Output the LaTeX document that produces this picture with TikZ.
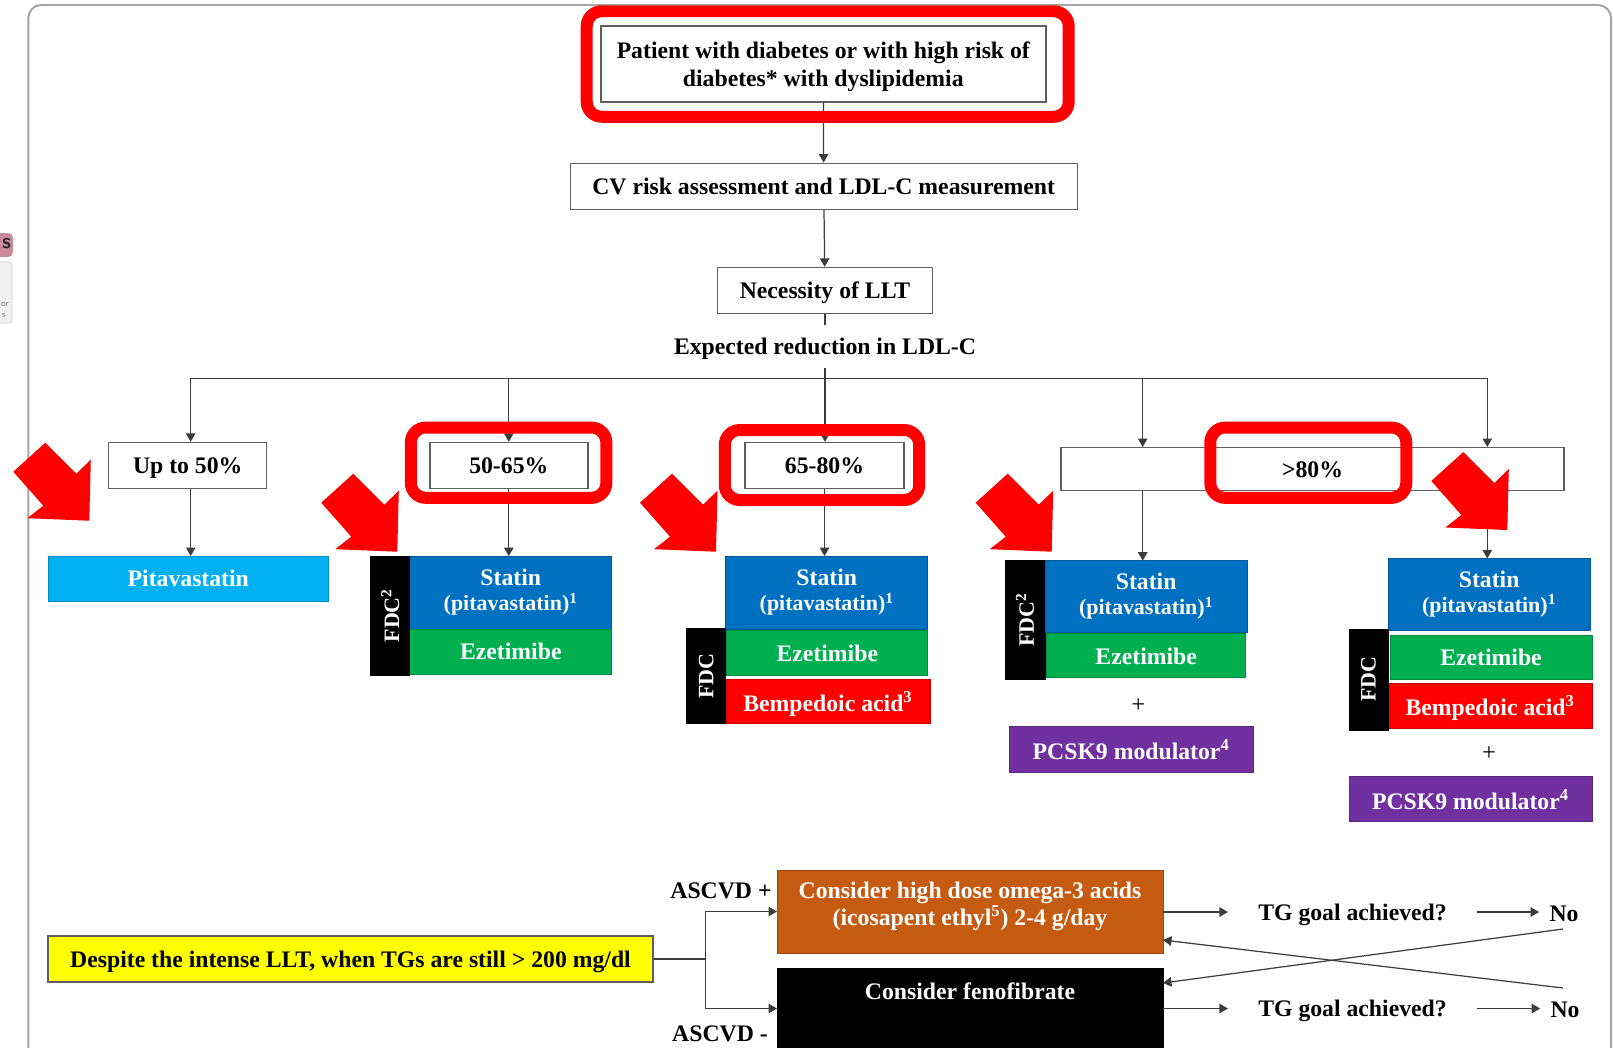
\documentclass[tikz,border=0pt]{standalone}
\usepackage{fontspec}
\setmainfont{Liberation Serif}
\usetikzlibrary{arrows.meta,positioning,calc}
\definecolor{framegray}{RGB}{165,165,165}
\definecolor{linegray}{RGB}{60,60,60}
\definecolor{boxgray}{RGB}{95,95,95}
\definecolor{hired}{RGB}{255,0,0}
\definecolor{pitablue}{RGB}{0,176,240}
\definecolor{statblue}{RGB}{0,112,192}
\definecolor{ezegreen}{RGB}{0,176,80}
\definecolor{bempred}{RGB}{255,0,0}
\definecolor{pcskpurple}{RGB}{112,48,160}
\definecolor{omegabrown}{RGB}{197,90,17}
\definecolor{tgyellow}{RGB}{255,255,0}
\definecolor{tabpink}{RGB}{201,139,156}
\newcommand{\bodyfont}{\fontsize{13.5}{15.5}\selectfont\bfseries}
\newcommand{\parenfont}{\fontsize{12.5}{14}\selectfont\bfseries}
% big red pointer, tip at #1
\newcommand{\redpointer}[1]{%
  \fill[hired] (#1) -- ++(1.5,-61) -- ++(-14.5,14) -- ++(-31,-31) -- ++(-32,29)
    -- ++(30,34) -- ++(-16,12.5) -- cycle;}

\begin{document}
\begin{tikzpicture}[x=0.02cm, y=-0.02cm,
    sz/.style 2 args={minimum width=#1*0.02cm, minimum height=#2*0.02cm},
    plain/.style={draw=boxgray, line width=0.8pt, fill=white, inner sep=0pt, text depth=0pt, align=center, font=\bodyfont},
    drug/.style={draw=#1!80!black, line width=0.5pt, fill=#1, text=white, inner sep=0pt, outer sep=0pt,
                 text depth=0pt, align=center, font=\bodyfont},
    statin/.style={drug=statblue, text depth=3pt},
    fdc/.style={fill=black, draw=black, text=white, inner sep=0pt, outer sep=0pt, rotate=90, font=\parenfont},
    hilite/.style={draw=hired, line width=0.24cm, rounded corners=0.3cm, inner sep=0pt},
    link/.style={draw=linegray, line width=0.7pt},
    arr/.style={link, -{Triangle[length=0.17cm,width=0.19cm]}},
    txt/.style={font=\bodyfont, inner sep=0pt, text depth=0pt}]
  \useasboundingbox (0,0) rectangle (1613,1048);
  \clip (0,0) rectangle (1613,1048);

  \draw[framegray, line width=0.04cm, rounded corners=0.26cm] (28.3,1100) -- (28.3,5) -- (1611,5) -- (1611,1100);
  \fill[tabpink, rounded corners=0.1cm] (-10,233) rectangle (13,257);
  \node[font=\sffamily\bfseries\fontsize{12}{12}\selectfont, text=black!85, inner sep=0pt] (tabs) at (6.5,244) {s};
  \filldraw[fill=black!6, draw=black!18, rounded corners=0.05cm] (-10,262) rectangle (12,323);
  \node[font=\sffamily\fontsize{5}{5}\selectfont, text=black!45, inner sep=0pt] (tabor) at (5,305) {or};
  \node[font=\sffamily\fontsize{5}{5}\selectfont, text=black!45, inner sep=0pt] (tabs2) at (4,316) {s};

  \node[plain, sz={445}{76}] (patient) at (823.3,64.2) {Patient with diabetes or with high risk of\\diabetes* with dyslipidemia};
  \node[plain, sz={507}{46}] (cvrisk) at (823.7,186.3) {CV risk assessment and LDL-C measurement};
  \node[plain, sz={215}{46}] (need) at (825,290.5) {Necessity of LLT};
  \node[txt, sz={310}{43}] (expect) at (825,346.5) {Expected reduction in LDL-C};
  \coordinate (bus) at (825,378.3);
  \coordinate (c1) at (190.7,378.3);
  \coordinate (c4) at (1142.7,378.3);
  \coordinate (c5) at (1487.3,378.3);

  \node[plain, sz={158}{46}] (r1) at (187.7,465.5) {Up to 50\%};
  \node[plain, sz={158}{46}] (r2) at (508.8,465.5) {50-65\%};
  \node[plain, sz={159}{46}] (r3) at (824.5,465.5) {65-80\%};
  \node[plain, sz={503}{43}] (r4) at (1312.5,469.2) {>80\%};

  \node[drug=pitablue, sz={280}{45}] (pita) at (188.3,578.5) {Pitavastatin};

  \node[statin, sz={202}{73}] (st2) at (510.8,592.6) {Statin\\[-1.3pt]{\parenfont (pitavastatin)\textsuperscript{1}}};
  \node[drug=ezegreen, sz={202}{45}] (ez2) at (510.8,651.7) {Ezetimibe};
  \node[fdc, sz={119}{39}] (fdc2) at (390.3,615.5) {FDC\textsuperscript{2}};

  \node[statin, sz={202}{73}] (st3) at (826.8,592.6) {Statin\\[-1.3pt]{\parenfont (pitavastatin)\textsuperscript{1}}};
  \node[drug=ezegreen, sz={201}{45}] (ez3) at (827.3,653.3) {Ezetimibe};
  \node[drug=bempred, sz={204}{44}] (bp3) at (828,701.3) {Bempedoic acid\textsuperscript{3}};
  \node[fdc, sz={95}{39}] (fdc3) at (706.3,676.3) {FDC};

  \node[fdc, sz={119}{40}] (fdc4) at (1025,620) {FDC\textsuperscript{2}};
  \node[statin, sz={202}{72}] (st4) at (1146.2,596.7) {Statin\\[-1.3pt]{\parenfont (pitavastatin)\textsuperscript{1}}};
  \node[drug=ezegreen, sz={199}{44}] (ez4) at (1146.2,655.8) {Ezetimibe};
  \node[txt, font=\fontsize{14}{14}\selectfont] (plus4) at (1138.3,706) {+};
  \node[drug=pcskpurple, sz={244}{46}] (pc4) at (1131.2,749.5) {PCSK9 modulator\textsuperscript{4}};

  \node[statin, sz={202}{72}] (st5) at (1489.2,594.5) {Statin\\[-1.3pt]{\parenfont (pitavastatin)\textsuperscript{1}}};
  \node[drug=ezegreen, sz={202}{44}] (ez5) at (1491,657.2) {Ezetimibe};
  \node[drug=bempred, sz={204}{45}] (bp5) at (1490.2,705.8) {Bempedoic acid\textsuperscript{3}};
  \node[fdc, sz={101}{39}] (fdc5) at (1368.4,679.4) {FDC};
  \node[txt, font=\fontsize{14}{14}\selectfont] (plus5) at (1489,754) {+};
  \node[drug=pcskpurple, sz={243}{45}] (pc5) at (1470.5,799.2) {PCSK9 modulator\textsuperscript{4}};

  \node[plain, fill=tgyellow, sz={605}{46}] (warn) at (350.5,959) {Despite the intense LLT, when TGs are still > 200 mg/dl};
  \node[drug=omegabrown, sz={386}{83}, text depth=8.4pt] (omega) at (970,911.5)
       {Consider high dose omega-3 acids\\(icosapent ethyl\textsuperscript{5}) 2-4 g/day};
  \node[drug=black, minimum width=386*0.02cm, anchor=north, text height=18pt, text depth=3cm] (feno) at (970,968)
       {Consider fenofibrate};
  \node[txt] (ascp) at (721,891) {ASCVD +};
  \node[txt] (ascm) at (720,1034) {ASCVD -};
  \coordinate (split) at (705.5,959);
  \node[txt, inner xsep=0.6cm] (tg1) at (1352.5,912) {TG goal achieved?};
  \node[txt, inner xsep=0.2cm] (no1) at (1564,913.5) {No};
  \node[txt, inner xsep=0.6cm] (tg2) at (1352.5,1008.5) {TG goal achieved?};
  \node[txt, inner xsep=0.2cm] (no2) at (1565,1010) {No};
  \coordinate (noA) at (1563,929);
  \coordinate (noB) at (1563,988);

  \draw[arr] (patient) -- (cvrisk);
  \draw[arr] (cvrisk) -- (need);
  \draw[link] (need.south) -- (need.south |- expect.north);
  \draw[arr] (expect.south) -- (expect.south |- r3.north);
  \draw[link] (c1) -- (c5);
  \draw[arr] (c1) -- (c1 |- r1.north);
  \draw[arr] (r2.north |- bus) -- (r2);
  \draw[arr] (c4) -- (c4 |- r4.north);
  \draw[arr] (c5) -- (c5 |- r4.north);
  \draw[arr] (c1 |- r1.south) -- (c1 |- pita.north);
  \draw[arr] (r2.south) -- (r2.south |- st2.north);
  \draw[arr] (r3.south) -- (r3.south |- st3.north);
  \draw[arr] (c4 |- r4.south) -- (c4 |- st4.north);
  \draw[arr] (c5 |- r4.south) -- (c5 |- st5.north);

  \draw[link] (warn) -- (split);
  \draw[arr] (split) |- (omega.west);
  \draw[arr] (split) |- (feno.west |- tg2);
  \draw[arr] (omega.east |- tg1) -- (tg1.west);
  \draw[arr] (tg1.east) -- (tg1.east -| no1.west);
  \draw[arr] (feno.east |- tg2) -- (tg2.west);
  \draw[arr] (tg2.east) -- (tg2.east -| no2.west);
  \draw[arr] (noA) -- ([yshift=-0.3cm]feno.north east);
  \draw[arr] (noB) -- ([yshift=0.26cm]omega.south east);

  \node[hilite, sz={482}{105.5}] (hl0) at (827.7,64) {};
  \node[hilite, sz={195.5}{70.3}] (hl2) at (508.6,462.7) {};
  \node[hilite, sz={194.4}{70}] (hl3) at (822,465) {};
  \node[hilite, sz={196}{70.3}] (hl4) at (1308.3,462.7) {};

  \redpointer{89.3,520.7}
  \redpointer{397.3,551.7}
  \redpointer{716,551.7}
  \redpointer{1051.7,551.7}
  \redpointer{1507.3,530}
\end{tikzpicture}
\end{document}
